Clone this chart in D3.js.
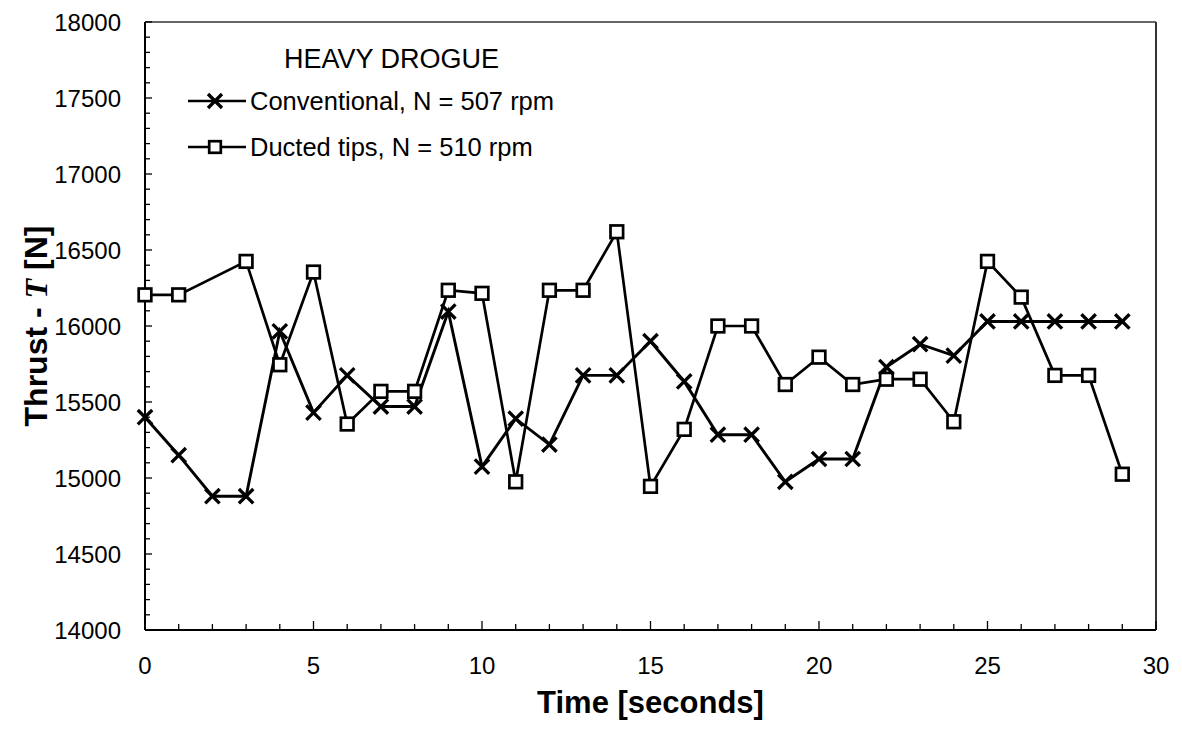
<!DOCTYPE html>
<html>
<head>
<meta charset="utf-8">
<script src="https://cdn.jsdelivr.net/npm/d3@7"></script>
<style>
  body { margin: 0; background: #fff; }
  text { font-family: Arial, "Liberation Sans", sans-serif; fill: #000; }
</style>
</head>
<body>
<script>
let width = 1182, height = 730;

// time in seconds
let time = d3.range(0, 30);
// thrust [N]
let conventional = [15400, 15150, 14880, 14880, 15965, 15430, 15675, 15470, 15470, 16095,
                    15075, 15390, 15220, 15675, 15675, 15900, 15635, 15285, 15285, 14975,
                    15125, 15125, 15730, 15880, 15805, 16030, 16030, 16030, 16030, 16030];
let ducted = [16205, 16205, null, 16425, 15745, 16355, 15355, 15570, 15570, 16235,
              16215, 14975, 16235, 16235, 16620, 14945, 15320, 16000, 16000, 15615,
              15795, 15615, 15650, 15650, 15370, 16425, 16190, 15675, 15675, 15025];
let xTicks = [0, 5, 10, 15, 20, 25, 30];
let yTicks = [14000, 14500, 15000, 15500, 16000, 16500, 17000, 17500, 18000];
let legendTitle = "HEAVY DROGUE";
let legendLabels = ["Conventional, N = 507 rpm", "Ducted tips, N = 510 rpm"];

let margin = {left: 145, right: 1156, top: 22, bottom: 630};

let svg = d3.select("body").append("svg")
    .attr("width", width)
    .attr("height", height);

let x = d3.scaleLinear().domain([0, 30]).range([margin.left, margin.right]);
let y = d3.scaleLinear().domain([14000, 18000]).range([margin.bottom, margin.top]);

// frame: top + right are the thin box, left + bottom the axes
svg.append("line").attr("x1", margin.left).attr("x2", margin.right)
    .attr("y1", margin.top).attr("y2", margin.top)
    .attr("stroke", "#333").attr("stroke-width", 1.5);
svg.append("line").attr("x1", margin.right).attr("x2", margin.right)
    .attr("y1", margin.top).attr("y2", margin.bottom)
    .attr("stroke", "#333").attr("stroke-width", 2);

// y axis with minor ticks every 100
let yAxis = svg.append("g").attr("transform", `translate(${margin.left},0)`);
yAxis.append("line").attr("y1", margin.top).attr("y2", margin.bottom)
    .attr("stroke", "#000").attr("stroke-width", 2);
yAxis.selectAll("line.tick").data(d3.range(14000, 18001, 100)).enter().append("line")
    .attr("class", "tick")
    .attr("x1", 0).attr("x2", d => d % 500 == 0 ? 7 : 5)
    .attr("y1", d => y(d)).attr("y2", d => y(d))
    .attr("stroke", "#000").attr("stroke-width", 1.3);
yAxis.selectAll("text").data(yTicks).enter().append("text")
    .attr("x", -24).attr("y", d => y(d) + 8.5)
    .attr("text-anchor", "end")
    .style("font-size", "24px")
    .text(d => d);

// x axis with minor ticks every second
let xAxis = svg.append("g").attr("transform", `translate(0,${margin.bottom})`);
xAxis.append("line").attr("x1", margin.left).attr("x2", margin.right)
    .attr("stroke", "#000").attr("stroke-width", 2);
xAxis.selectAll("line.tick").data(d3.range(0, 31)).enter().append("line")
    .attr("class", "tick")
    .attr("x1", d => x(d)).attr("x2", d => x(d))
    .attr("y1", 0).attr("y2", d => d % 5 == 0 ? -9 : -6)
    .attr("stroke", "#000").attr("stroke-width", 1.3);
xAxis.selectAll("text").data(xTicks).enter().append("text")
    .attr("x", d => x(d)).attr("y", 44)
    .attr("text-anchor", "middle")
    .style("font-size", "24px")
    .text(d => d);

// axis titles
svg.append("text")
    .attr("x", (margin.left + margin.right) / 2).attr("y", 713)
    .attr("text-anchor", "middle")
    .style("font-size", "31px").style("font-weight", "bold")
    .text("Time [seconds]");

let yTitle = svg.append("text")
    .attr("transform", `translate(47,${(margin.top + margin.bottom) / 2}) rotate(-90)`)
    .attr("text-anchor", "middle")
    .style("font-size", "32px").style("font-weight", "bold");
yTitle.append("tspan").text("Thrust - ");
yTitle.append("tspan").style("font-family", "'Liberation Serif', 'DejaVu Serif', serif")
    .style("font-style", "italic").text("T");
yTitle.append("tspan").text(" [N]");

// markers
function cross(g, s) {
    g.append("path").attr("d", `M${-s},${-s}L${s},${s}M${-s},${s}L${s},${-s}`)
        .attr("stroke", "#000").attr("stroke-width", 3.3).attr("fill", "none");
}
function square(g, s) {
    g.append("rect").attr("x", -s).attr("y", -s).attr("width", 2 * s).attr("height", 2 * s)
        .attr("stroke", "#000").attr("stroke-width", 2.7).attr("fill", "#fff");
}

let line = d3.line()
    .x(d => x(d[0])).y(d => y(d[1]));

let convData = time.map((t, i) => [t, conventional[i]]);
let ductData = time.map((t, i) => [t, ducted[i]]).filter(d => d[1] != null);

svg.append("path").datum(convData).attr("d", line)
    .attr("fill", "none").attr("stroke", "#000").attr("stroke-width", 2.9);
svg.append("path").datum(ductData).attr("d", line)
    .attr("fill", "none").attr("stroke", "#000").attr("stroke-width", 2.7);

svg.selectAll("g.dm").data(ductData).enter().append("g")
    .attr("class", "dm")
    .attr("transform", d => `translate(${x(d[0])},${y(d[1])})`)
    .each(function() { square(d3.select(this), 6.3); });
svg.selectAll("g.cm").data(convData).enter().append("g")
    .attr("class", "cm")
    .attr("transform", d => `translate(${x(d[0])},${y(d[1])})`)
    .each(function() { cross(d3.select(this), 7.2); });

// legend
let legend = svg.append("g");
legend.append("text").attr("x", 284).attr("y", 68)
    .style("font-size", "27px").text(legendTitle);
legendLabels.forEach((lab, i) => {
    let ly = 101 + i * 46;
    legend.append("line").attr("x1", 188).attr("x2", 246).attr("y1", ly).attr("y2", ly)
        .attr("stroke", "#000").attr("stroke-width", 2.4);
    let m = legend.append("g").attr("transform", `translate(215,${ly})`);
    if (i == 0) cross(m, 7); else square(m, 5.8);
    legend.append("text").attr("x", 250).attr("y", ly + 9)
        .style("font-size", "25.5px").text(lab);
});
</script>
</body>
</html>
